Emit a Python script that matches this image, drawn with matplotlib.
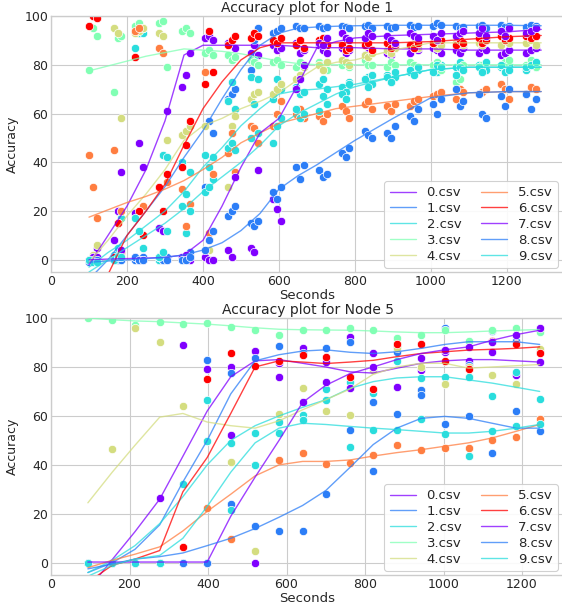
import matplotlib
matplotlib.use("Agg")
import matplotlib.pyplot as plt
import numpy as np

plt.style.use("seaborn-v0_8-whitegrid")
plt.rcParams["font.family"] = "DejaVu Sans"

labels = ["0.csv", "1.csv", "2.csv", "3.csv", "4.csv",
          "5.csv", "6.csv", "7.csv", "8.csv", "9.csv"]

# ---- Node 1 : points (3 samples per time cluster) ----
n1_x = [100, 110, 120, 165, 175, 185, 222, 232, 242, 285, 295, 305, 345, 355, 365,
        405, 415, 425, 465, 475, 485, 525, 535, 545, 585, 595, 605, 645, 655, 665,
        705, 715, 725, 765, 775, 785, 825, 835, 845, 885, 895, 905, 945, 955, 965,
        1005, 1015, 1025, 1065, 1075, 1085, 1125, 1135, 1145, 1185, 1195, 1205, 1250, 1262, 1275]
n1_y0 = [-1, 0, 5, 8, 20, 36, 19, 48, 38, 13, 12, 61, 71, 76, 85, 91, 92, 90, 89, 90, 87,
         85, 88, 84, 88, 86, 87, 89, 85, 86, 88, 86, 85, 87, 85, 86, 84, 85, 86, 85, 84, 87,
         85, 87, 86, 87, 86, 85, 86, 85, 87, 85, 87, 86, 84, 85, 86, 85, 86, 87]
n1_y1 = [0, 0, 0, 0, 0, 0, 0, 0, 1, 0, 0, 1, 0, 1, 3, 30, 57, 52, 66, 68, 70,
         78, 90, 95, 93, 94, 95, 96, 95, 95, 96, 95, 95.5, 96, 95.5, 95, 96, 96.5, 95, 96, 95, 95.5,
         96.5, 95.5, 96, 96, 97, 96.5, 96, 95, 95.5, 96, 96.5, 95, 96.5, 95.5, 96, 95.5, 96.5, 96]
n1_y2 = [-1, 0, 0, 2, 5, 17, 87, 93, 93, 0, 43, 42, 40, 11, 36, 43, 38, 33, 65, 73, 62,
         75, 82, 74, 66, 74, 70, 71, 68, 69, 72, 74, 70, 71, 69, 73, 74, 75, 72, 76, 73, 75,
         77, 79, 78, 78, 77, 80, 79, 81, 78, 80, 77, 78, 79, 78, 80, 78, 80, 79]
n1_y3 = [78, 95, 92, 69, 91, 92, 96, 97, 95, 97, 98, 79, 94, 95, 93, 85, 86, 84, 84, 82, 83,
         82, 81, 80, 81, 82, 80, 79, 81, 80, 81, 80, 78, 80, 81, 79, 82, 80, 80, 79, 81, 80,
         81, 80, 79, 80, 81, 78, 73, 74, 80, 79, 80, 81, 80, 81, 82, 80, 82, 79]
n1_y4 = [0, 2, 6, 95, 93, 58, 93, 94, 95, 93, 92, 49, 51, 53, 55, 55, 4, 12, 30, 55, 59,
         66, 68, 69, 68, 70, 72, 74, 76, 79, 80, 78, 81, 82, 81, 80, 84, 83, 85, 86, 85, 87,
         88, 89, 87, 89, 87, 88, 89, 90, 88, 89, 88, 90, 88, 90, 89, 89, 90, 88]
n1_y5 = [43, 30, 17, 45, 15, 20, 94, 95, 22, 87, 85, 32, 29, 14, 23, 77, 11, 35, 44, 52, 36,
         55, 54, 48, 55, 60, 65, 60, 62, 58, 59, 57, 60, 63, 61, 58, 64, 65, 62, 63, 61, 64,
         63, 65, 66, 67, 68, 69, 66, 70, 69, 68, 69, 70, 72, 70, 66, 68, 71, 70]
n1_y6 = [96, 100, 99, 1, 15, 3, 83, 20, 10, 30, 20, 35, 38, 47, 57, 72, 94, 77, 88, 90, 92,
         91, 93, 92, 90, 89, 91, 88, 90, 87, 90, 91, 88, 88, 86, 87, 88, 89, 86, 89, 87, 88,
         88, 87, 89, 89, 91, 90, 88, 90, 89, 91, 89, 90, 92, 90, 91, 92, 91, 92]
n1_y7 = [0, 1, 1, 0, 1, 4, 1, 0, 0, 1, 0, 0, 1, 2, 0, 1, 0, 0, 4, 1, 34,
         5, 3, 37, 25, 21, 16, 70, 74, 80, 89, 88, 91, 93, 91, 90, 91, 93, 92, 92, 90, 89,
         93, 92, 91, 92, 90, 93, 92, 93, 94, 93, 95, 92, 94, 92, 95, 93, 94, 95]
n1_y8 = [-1, 0, 0, 0, 0, 0, 1, 0, 0, 1, 0, 0, 0, 0, 1, 4, 8, 12, 18, 20, 22,
         15, 14, 16, 28, 25, 30, 38, 33, 39, 37, 34, 35, 44, 42, 46, 53, 51, 50, 52, 50, 55,
         59, 57, 62, 64, 60, 66, 70, 63, 65, 68, 60, 58, 67, 63, 70, 68, 62, 66]
n1_y9 = [0, -1, -1, 0, 1, 1, 17, 12, 5, 1, 3, 12, 22, 27, 20, 28, 30, 42, 46, 48, 45,
         50, 64, 52, 48, 55, 58, 62, 58, 60, 61, 67, 64, 68, 66, 72, 74, 71, 76, 75, 73, 77,
         78, 76, 79, 77, 80, 79, 76, 79, 78, 79, 77, 81, 80, 77, 78, 79, 80, 81]

# ---- Node 1 : fitted lines ----
n1_lx = [100, 150, 200, 250, 300, 350, 400, 450, 500, 550, 600, 650, 700, 750, 800,
         900, 1000, 1100, 1200, 1290]
n1_l0 = [-2, 10, 22, 37, 57, 84, 88, 88, 88, 88, 88, 87.5, 87, 87, 87, 86.5, 86.5, 86, 86, 86]
n1_l1 = [-8, 0, 10, 20, 30, 42, 53, 66, 78, 88, 93, 95, 95.5, 95.8, 96, 96.2, 96.2, 96.2, 96.2, 96]
n1_l2 = [-3, 3, 8, 14, 20, 28, 38, 46, 55, 62, 68, 69.5, 70, 71, 72, 75, 78, 79, 79, 79]
n1_l3 = [77.5, 79.5, 81.5, 83.5, 85, 86.5, 86, 85.5, 84.5, 83, 81.5, 80.5, 80, 80, 80, 80, 80, 80, 80, 80]
n1_l4 = [-1, 8, 18, 27, 37, 49, 55, 58, 62, 65, 68.5, 74, 79, 81, 82, 86, 89, 89, 89, 89]
n1_l5 = [17.5, 20.5, 23.5, 26, 29, 32.5, 37, 42, 48, 52, 56, 58, 60, 62, 63, 65, 67, 68.5, 69, 69]
n1_l6 = [-14, -6, 10, 20, 31, 47, 62, 73, 82, 87, 89, 89, 89, 89, 89, 89, 89.5, 90.5, 91.5, 92]
n1_l7 = [0, 0.3, 0.5, 0.7, 1, 2, 8, 22, 38, 52, 58, 72, 87, 89.5, 91, 92, 92.5, 93, 93.5, 94.5]
n1_l8 = [-1, -0.5, 0, 0.5, 1, 2, 4, 7, 12, 19, 29, 34.5, 39, 44, 49, 58, 66.5, 68.5, 69, 69]
n1_l9 = [-5, 0, 5, 10, 15, 21, 28, 34, 40, 47, 55, 60, 64, 68, 71, 75, 78, 79, 79, 79]

# ---- Node 5 : points ----
n5_x = [94, 156, 214, 277, 336, 398, 458, 520, 581, 641, 700, 762, 821, 881, 943,
        1003, 1064, 1124, 1185, 1245]
n5_y0 = [0, 0, 0, 26.5, 89, 79.3, 80, 86.7, 81.8, 87.6, 82, 92.3, 85.5, 88, 78.7, 86.2, 82.4, 86.2, 76.7, 82]
n5_y1 = [0, 0, 0, 0, 0, 83, 77.5, 83.5, 88.5, 85.5, 87.8, 90.3, 65.7, 86, 70.4, 95.9, 80.7, 94.6, 90.5, 86.2]
n5_y2 = [0, 0, 0, 0, 0, 66.7, 49, 53, 57.5, 60.5, 70.9, 73.7, 69.5, 82.4, 75.4, 76, 76, 68, 78, 67]
n5_y3 = [100, 99, 97, 98.5, 97.5, 98, 96.5, 95, 93.2, 95.3, 95.3, 96, 95.3, 91.7, 93.1, 95, 90.7, 95.3, 96, 94.4]
n5_y4 = [0, 46.5, 96, 90, 64, 0, 41, 5, 60.7, 71.5, 61.8, 60.5, 78.7, 87.6, 80, 72.9, 80, 76.7, 72.9, 87.2]
n5_y5 = [0, 0, 0, 0, 0, 22.5, 9.7, 40, 42, 45, 40.3, 40.7, 44, 48, 46, 47, 46.8, 50, 51.3, 58.9]
n5_y6 = [0, 0, 0, 0, 6.3, 75, 85.5, 80.5, 82.5, 84.8, 84.2, 76, 70.9, 89.3, 89.5, 82.4, 79.3, 90.7, 89.2, 85.5]
n5_y7 = [0, 0, 0, 0, 0, 0, 52, 0, 76, 65.8, 74, 71.5, 80, 72, 83.5, 87, 88, 90, 93, 96]
n5_y8 = [0, 0, 0, 0, 0, 0, 24, 15, 13, 13, 28, 54.4, 37.5, 60.8, 68.6, 56.6, 60, 45, 61.8, 53.9]
n5_y9 = [0, 0, 0, 0, 32, 49.7, 21.5, 40, 53, 58.5, 66.6, 47.2, 54.4, 54.4, 58.9, 52.8, 43.6, 54, 55.7, 56.5]

# ---- Node 5 : fitted lines (same x as points) ----
n5_l0 = [-11, 1.3, 12.7, 26, 43.5, 62, 76, 82.5, 83, 81.5, 80, 78, 77.5, 79.5, 81.5, 82.5, 83, 83, 82.5, 82]
n5_l1 = [-4, 0, 5.5, 15.5, 33, 50, 69, 82.5, 85, 86.5, 87, 86, 85.5, 86.2, 87.6, 89.2, 90.3, 90.3, 90.3, 89.2]
n5_l2 = [-4, 1, 7, 16, 27, 40, 50, 56, 60, 63.5, 66.6, 71.3, 74, 75.5, 76, 76, 74.7, 73.4, 71.7, 70]
n5_l3 = [100, 99.3, 98.8, 98.5, 98, 97.5, 96.8, 96, 95.4, 95.2, 95.1, 95, 94.7, 94.3, 94, 94, 94.3, 94.7, 95, 95.3]
n5_l4 = [24.5, 37, 48, 59.5, 61, 57.5, 56, 55, 58, 62.5, 66.6, 71, 77, 80, 81.5, 81.5, 79.5, 80, 80.5, 81]
n5_l5 = [-2, 1, 3.5, 6.5, 13, 21, 28, 35.5, 40, 41.4, 41.4, 42, 43.6, 45, 46.2, 47.6, 49, 51, 53.7, 56.5]
n5_l6 = [-8, -1, 1.5, 5, 29, 43, 61, 80, 82.5, 82, 81.4, 82, 82.7, 84.2, 85.5, 86.2, 86.9, 87.2, 87.6, 88.2]
n5_l7 = [0.3, 0.3, 0.3, 0.3, 0.3, 0.3, 19, 35, 50, 65.5, 72.5, 77.3, 80, 83, 85.5, 87, 88.2, 90.9, 93.2, 95]
n5_l8 = [-2.5, -0.5, 1.5, 2.5, 4, 7, 10, 14, 18.6, 23.4, 29.5, 39, 48.3, 55, 59, 59.8, 59, 57, 55, 55]
n5_l9 = [-5.5, -1, 1.5, 3, 10, 23, 37, 49, 55, 57, 56.5, 55.7, 55, 54.4, 53.7, 53, 53, 53.7, 55, 56.5]

n1_pts = [n1_y0, n1_y1, n1_y2, n1_y3, n1_y4, n1_y5, n1_y6, n1_y7, n1_y8, n1_y9]
n1_lines = [n1_l0, n1_l1, n1_l2, n1_l3, n1_l4, n1_l5, n1_l6, n1_l7, n1_l8, n1_l9]
n5_pts = [n5_y0, n5_y1, n5_y2, n5_y3, n5_y4, n5_y5, n5_y6, n5_y7, n5_y8, n5_y9]
n5_lines = [n5_l0, n5_l1, n5_l2, n5_l3, n5_l4, n5_l5, n5_l6, n5_l7, n5_l8, n5_l9]

colors = plt.cm.rainbow(np.linspace(0, 1, 7))

fig = plt.figure(figsize=(5.62, 6.05), dpi=100)
ax1 = fig.add_axes([51/562, 1 - 272/605, 513/562, 256/605])
ax2 = fig.add_axes([51/562, 1 - 575/605, 513/562, 257/605])


def draw(ax, px, pts, lx, lines, title, xmax):
    for i in range(10):
        c = colors[i % 7]
        ax.scatter(px, pts[i], s=36, color=c, edgecolors="white", linewidths=0.5, zorder=2)
        ax.plot(lx, lines[i], color=c, alpha=0.75, lw=1, label=labels[i], zorder=3)
    ax.set_xlim(0, xmax)
    ax.set_ylim(-5, 100)
    ax.set_xticks([0, 200, 400, 600, 800, 1000, 1200])
    ax.set_yticks([0, 20, 40, 60, 80, 100])
    ax.tick_params(labelsize=9, colors="0.15", pad=2)
    ax.set_title(title, fontsize=10, color="0.15", pad=3)
    ax.set_xlabel("Seconds", fontsize=9.5, color="0.15", labelpad=1)
    ax.set_ylabel("Accuracy", fontsize=9, color="0.15", labelpad=4)
    leg = ax.legend(ncol=2, loc="lower right", fontsize=9.5, frameon=True,
                    facecolor="white", edgecolor="0.8", framealpha=0.9,
                    columnspacing=1.5, labelspacing=0.22,
                    bbox_to_anchor=(511/513, 0), borderaxespad=0.3)
    leg.get_frame().set_linewidth(0.8)


draw(ax1, n1_x, n1_pts, n1_lx, n1_lines, "Accuracy plot for Node 1", 1350)
draw(ax2, n5_x, n5_pts, n5_x, n5_lines, "Accuracy plot for Node 5", 1307)

fig.savefig("out.png", dpi=100)
